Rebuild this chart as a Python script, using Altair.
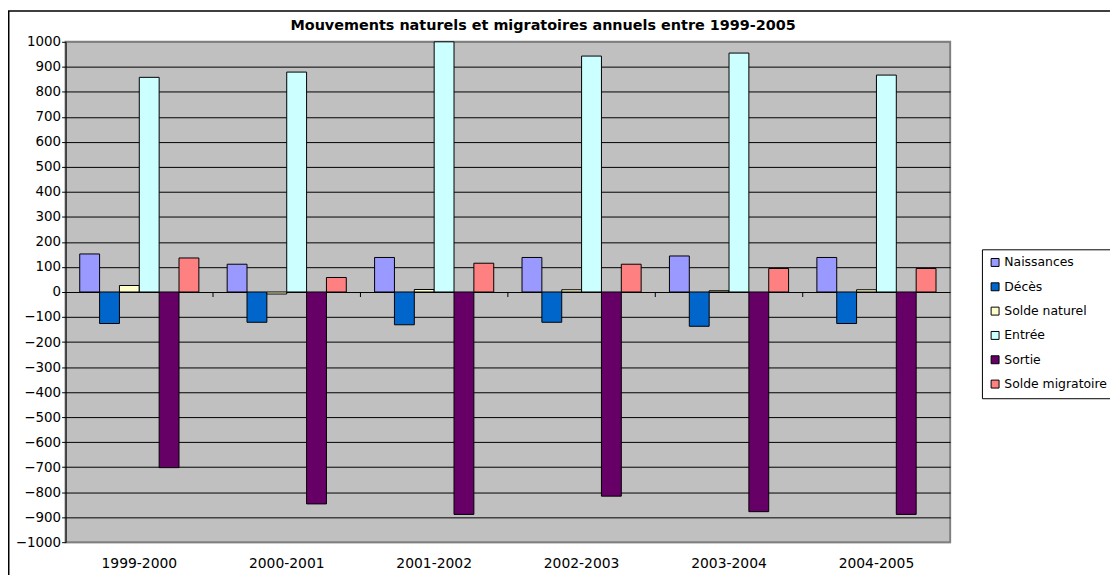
import altair as alt
import pandas as pd

titre = "Mouvements naturels et migratoires annuels entre 1999-2005"
periodes = ["1999-2000", "2000-2001", "2001-2002", "2002-2003", "2003-2004", "2004-2005"]
series = ["Naissances", "Décès", "Solde naturel", "Entrée", "Sortie", "Solde migratoire"]
couleurs = ["#9999FF", "#0066CC", "#FFFFCC", "#CCFFFF", "#660066", "#FF8080"]
graduations = list(range(-1000, 1001, 100))

naissances = [152, 111, 138, 138, 144, 138]
deces = [-126, -121, -131, -121, -137, -126]
solde_naturel = [26, -8, 10, 9, 5, 9]
entree = [858, 879, 1000, 943, 955, 867]
sortie = [-702, -847, -889, -816, -878, -889]
solde_migratoire = [136, 58, 115, 111, 94, 94]

valeurs = [naissances, deces, solde_naturel, entree, sortie, solde_migratoire]
rows = []
for s, vals in zip(series, valeurs):
    for p, v in zip(periodes, vals):
        rows.append({"periode": p, "serie": s, "valeur": v})
df = pd.DataFrame(rows)

FONT = "DejaVu Sans"

y_scale = alt.Scale(domain=[-1000, 1000], nice=False)
y_axis = alt.Axis(
    title=None, values=graduations, format="d", labelOverlap=False, labelFlush=False,
    grid=True,
    gridColor=alt.condition("abs(datum.value) == 1000", alt.value("#808080"), alt.value("black")),
    gridWidth=1, gridOpacity=1,
    domainColor="black", domainWidth=1, tickColor="black", tickSize=4,
    labelPadding=1, labelFontSize=13.5, labelFont=FONT, labelColor="black",
)

x_enc = alt.X(
    "periode:N",
    sort=periodes,
    scale=alt.Scale(paddingInner=0, paddingOuter=0),
    axis=alt.Axis(title=None, labelAngle=0, ticks=False, tickSize=0, domain=False,
                  labelPadding=15, labelFontSize=14, labelFont=FONT, labelColor="black"),
)

bars = alt.Chart(df).mark_bar(stroke="black", strokeWidth=1).encode(
    x=x_enc,
    xOffset=alt.XOffset("serie:N", sort=series,
                        scale=alt.Scale(paddingOuter=0.7125, paddingInner=0)),
    y=alt.Y("valeur:Q", scale=y_scale, axis=y_axis),
    color=alt.Color(
        "serie:N",
        sort=series,
        scale=alt.Scale(domain=series, range=couleurs),
        legend=alt.Legend(title=None, orient="none", legendX=923, legendY=209,
                          direction="vertical", strokeColor="black", fillColor="white",
                          padding=7, symbolType="square", symbolSize=64,
                          symbolStrokeColor="black", symbolStrokeWidth=1, symbolOpacity=1,
                          labelFontSize=12.5, labelFont=FONT, labelColor="black",
                          labelOffset=3, rowPadding=11.5, labelLimit=200),
    ),
)

ticks_df = pd.DataFrame({"periode": periodes[1:]})
ticks = alt.Chart(ticks_df).mark_rule(color="black", strokeWidth=1).encode(
    x=alt.X("periode:N", sort=periodes, bandPosition=0),
    y=alt.YDatum(0, scale=y_scale, axis=y_axis),
    y2=alt.datum(-20),
)

border = alt.Chart(pd.DataFrame({"a": [0]})).mark_rect(
    fillOpacity=0, stroke="black", strokeWidth=1.5
).encode(
    x=alt.value(-57.25), x2=alt.value(1200), y=alt.value(-31), y2=alt.value(600)
)

title = alt.Chart(pd.DataFrame({"t": [titre]})).mark_text(
    font=FONT, fontSize=14.5, fontWeight="bold", color="black",
    align="center", baseline="middle",
).encode(x=alt.value(481), y=alt.value(-16), text="t:N")

chart = alt.layer(border, bars, ticks, title).properties(
    width=891,
    height=504,
    padding={"left": 58, "top": 32, "right": 161, "bottom": 31},
    autosize=alt.AutoSizeParams(type="none"),
    background="white",
).configure_view(fill="#C0C0C0", stroke="#808080", strokeWidth=2)

chart.save("out.html", embed_options={"renderer": "svg", "actions": False})
